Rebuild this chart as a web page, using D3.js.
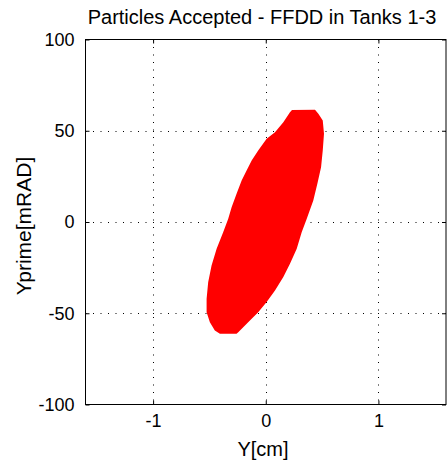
<!DOCTYPE html>
<html>
<head>
<meta charset="utf-8">
<script src="https://cdn.jsdelivr.net/npm/d3@7/dist/d3.min.js"></script>
<style>
  body { margin: 0; background: #fff; }
  text { font-family: "Liberation Sans", Arial, sans-serif; fill: #000; }
</style>
</head>
<body>
<script>
// axis settings
const xDomain = [-1.6, 1.6];
const yDomain = [-100, 100];
const xTicks = [-1, 0, 1];
const yTicks = [-100, -50, 0, 50, 100];

// outline of the accepted particle cloud (Y [cm], Yprime [mRAD])
const blobY = [0.215, 0.233, 0.437, 0.467, 0.506, 0.517, 0.506, 0.491, 0.458, 0.422,
  0.364, 0.319, 0.275, 0.215, 0.156, 0.082, 0.008, -0.067, -0.156, -0.244,
  -0.259, -0.407, -0.452, -0.496, -0.525, -0.525, -0.511, -0.481, -0.436, -0.378,
  -0.333, -0.303, -0.259, -0.214, -0.170, -0.125, -0.067, 0.008, 0.082, 0.156];
const blobYp = [60.2, 61.4, 61.5, 59.3, 55.6, 48.3, 39.2, 30.0, 20.9, 11.8,
  1.75, -5.6, -14.7, -22.9, -30.2, -37.5, -43.9, -49.4, -54.9, -60.4,
  -61.3, -61.3, -59.5, -54.9, -49.4, -42.1, -33.0, -23.8, -14.7, -5.6,
  1.75, 8.1, 15.5, 22.7, 28.2, 33.7, 39.2, 45.6, 49.2, 54.7];

const W = 447, H = 461;
const mLeft = 85.5, mRight = 446, mTop = 39.5, mBottom = 404.5;

const svg = d3.select("body").append("svg").attr("width", W).attr("height", H);

const x = d3.scaleLinear().domain(xDomain).range([mLeft, mRight]);
const y = d3.scaleLinear().domain(yDomain).range([mBottom, mTop]);

// grid
const grid = svg.append("g");
grid.selectAll("line.gx").data(xTicks).enter().append("line")
  .attr("x1", d => Math.round(x(d)) + 0.5).attr("x2", d => Math.round(x(d)) + 0.5)
  .attr("y1", mTop).attr("y2", mBottom)
  .attr("stroke", "#000").attr("stroke-dasharray", "1,6.5");
grid.selectAll("line.gy").data(yTicks.filter(d => d > yDomain[0] && d < yDomain[1])).enter().append("line")
  .attr("y1", d => Math.round(y(d)) + 0.5).attr("y2", d => Math.round(y(d)) + 0.5)
  .attr("x1", mLeft).attr("x2", mRight)
  .attr("stroke", "#000").attr("stroke-dasharray", "1,6.5");

// particle cloud
const pts = blobY.map((v, i) => [v, blobYp[i]]);
svg.append("path")
  .datum(pts)
  .attr("d", d3.line().x(d => x(d[0])).y(d => y(d[1])).curve(d3.curveLinearClosed))
  .attr("fill", "#ff0000");

// axes (ticks point inward, like matlab)
const fmt = d => String(d);
const xAx = d3.axisBottom(x).tickValues(xTicks).tickFormat(fmt).tickSizeInner(-4).tickSizeOuter(0).tickPadding(10);
const yAx = d3.axisLeft(y).tickValues(yTicks).tickFormat(fmt).tickSizeInner(-4).tickSizeOuter(0).tickPadding(11);
svg.append("g").attr("transform", `translate(0,${mBottom})`).call(xAx);
svg.append("g").attr("transform", `translate(${mLeft},0)`).call(yAx);
svg.append("g").attr("transform", `translate(0,${mTop})`)
  .call(d3.axisTop(x).tickValues(xTicks).tickSizeInner(-4).tickSizeOuter(0).tickFormat(""));
svg.append("g").attr("transform", `translate(${mRight},0)`)
  .call(d3.axisRight(y).tickValues(yTicks).tickSizeInner(-4).tickSizeOuter(0).tickFormat(""));
svg.selectAll(".domain").remove();
svg.selectAll(".tick line").attr("stroke", "#000");
svg.selectAll(".tick text").style("font-size", "18px").style("font-family", "'Liberation Sans', Arial, sans-serif");

svg.append("rect")
  .attr("x", mLeft).attr("y", mTop).attr("width", mRight - mLeft).attr("height", mBottom - mTop)
  .attr("fill", "none").attr("stroke", "#000");

// labels
svg.append("text").attr("x", 262).attr("y", 24).attr("text-anchor", "middle")
  .style("font-size", "20px").text("Particles Accepted - FFDD in Tanks 1-3");
svg.append("text").attr("x", 263).attr("y", 456).attr("text-anchor", "middle")
  .style("font-size", "20px").text("Y[cm]");
svg.append("text").attr("transform", "translate(31,226) rotate(-90)").attr("text-anchor", "middle")
  .style("font-size", "21px").text("Yprime[mRAD]");
</script>
</body>
</html>
